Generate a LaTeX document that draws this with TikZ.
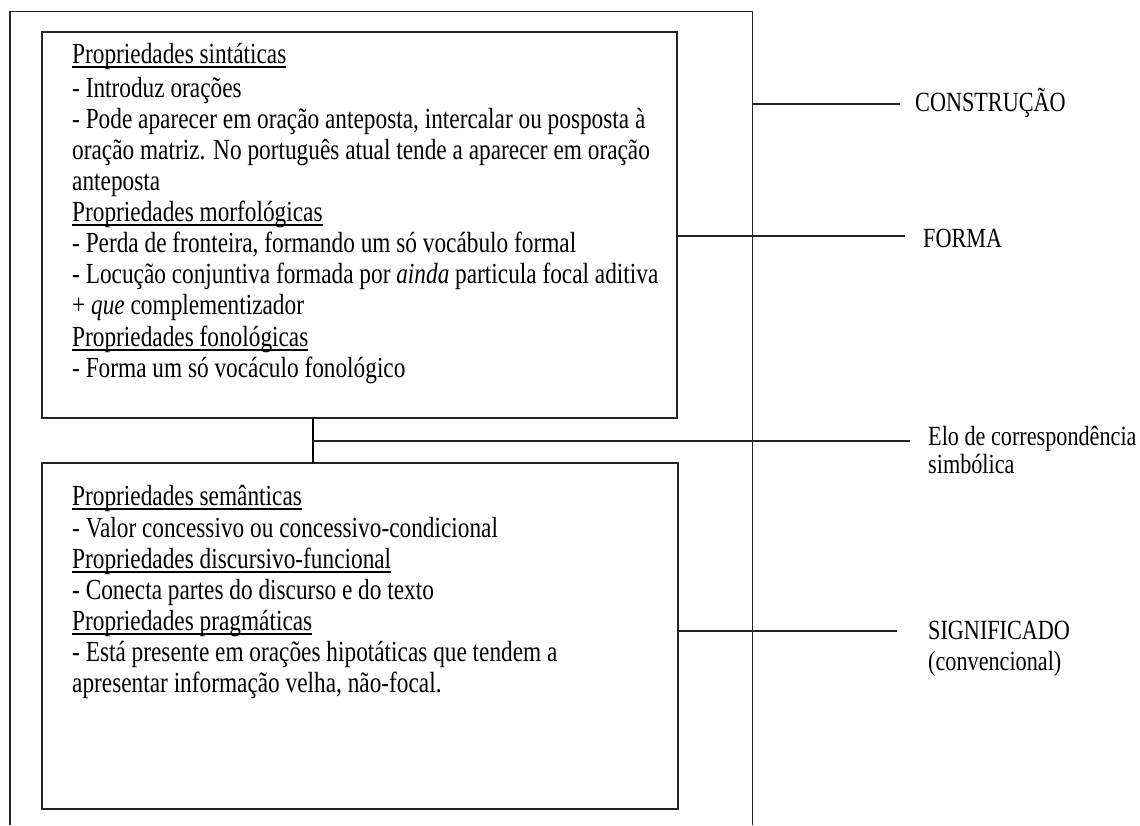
\documentclass[tikz,border=0pt]{standalone}
\usepackage{fontspec}
\setmainfont{Liberation Serif}
% underline set just below the baseline
\newcommand\ulx[1]{\setbox0\hbox{#1}\rlap{\rule[-3.6pt]{\wd0}{1.1pt}}\box0}
\begin{document}
\begin{tikzpicture}[x=1pt,y=1pt,
  edge/.style={draw=black!85, line width=1.4pt},
  box/.style={edge, rectangle, inner sep=0pt, outer sep=0pt},
  txt/.style={anchor=base west, inner sep=0pt, yscale=1.25, transform shape,
    font=\fontsize{23.3}{26}\selectfont},
  lbl/.style={txt, font=\fontsize{22.2}{26}\selectfont},
]
\useasboundingbox (0,0) rectangle (1140,-825);

% outer frame, open at the bottom
\coordinate (outSW) at (10,-825);
\coordinate (outNW) at (10,-11.7);
\coordinate (outNE) at (752.5,-11.7);
\coordinate (outSE) at (752.5,-825);
\draw[edge] (outSW) -- (outNW) -- (outNE) -- (outSE);

% form and meaning boxes
\node[box, minimum width=635pt, minimum height=386pt] (forma) at (359.5,-225) {};
\node[box, minimum width=636pt, minimum height=346pt] (signif) at (360,-636) {};

% form properties
\foreach \y/\t [count=\i] in {
  63/{\ulx{Propriedades sintáticas}},
  97/{- Introduz orações},
  128/{- Pode aparecer em oração anteposta, intercalar ou posposta à},
  159/{oração matriz. No português atual tende a aparecer em oração},
  190/{anteposta},
  221/{\ulx{Propriedades morfológicas}},
  252/{- Perda de fronteira, formando um só vocábulo formal},
  283/{- Locução conjuntiva formada por \textit{ainda} particula focal aditiva},
  314/{+ \textit{que} complementizador},
  346/{\ulx{Propriedades fonológicas}},
  377/{- Forma um só vocáculo fonológico}}
  \node[txt] (f\i) at (72,-\y) {\t};

% meaning properties
\foreach \y/\t [count=\i] in {
  505/{\ulx{Propriedades semânticas}},
  537/{- Valor concessivo ou concessivo-condicional},
  568/{\ulx{Propriedades discursivo-funcional}},
  599/{- Conecta partes do discurso e do texto},
  630/{\ulx{Propriedades pragmáticas}},
  661/{- Está presente em orações hipotáticas que tendem a},
  692/{apresentar informação velha, não-focal.}}
  \node[txt] (s\i) at (72,-\y) {\t};

% symbolic link between the two boxes
\coordinate (elo) at (313,-441);
\draw[draw=black, line width=2.6pt] (forma.south -| elo) -- (signif.north -| elo);

% labels on the right
\node[lbl] (lconst) at (915,-111) {CONSTRUÇÃO};
\node[lbl] (lforma) at (923,-247) {FORMA};
\node[lbl] (lelo1) at (928,-445) {Elo de correspondência};
\node[lbl] (lelo2) at (928,-473) {simbólica};
\node[lbl] (lsig1) at (928,-639) {SIGNIFICADO};
\node[lbl] (lsig2) at (928,-670) {(convencional)};

% leader lines
\coordinate (constEnd) at (900,-104);
\coordinate (formaEnd) at (905,-236);
\coordinate (eloEnd) at (910,-441);
\coordinate (sigEnd) at (897,-631);
\draw[edge] (outNE |- constEnd) -- (constEnd);
\draw[edge] (forma.east |- formaEnd) -- (formaEnd);
\draw[edge] (elo) -- (eloEnd);
\draw[edge] (signif.east |- sigEnd) -- (sigEnd);
\end{tikzpicture}
\end{document}
